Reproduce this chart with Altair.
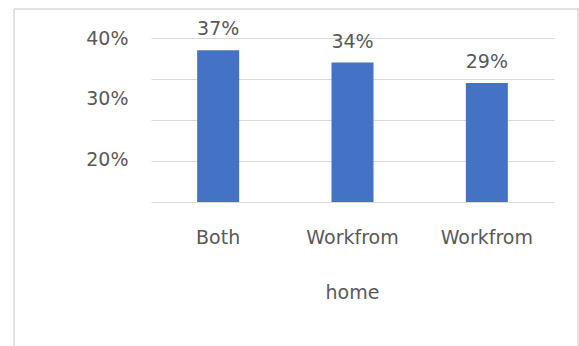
import altair as alt
import pandas as pd

categories = ["Both", "Workfrom home", "Workfrom"]
shares = [0.37, 0.34, 0.29]
label_ticks = [0.2, 0.3, 0.4]
grid_ticks = [0.0, 0.1, 0.2, 0.3, 0.4]

df = pd.DataFrame({"category": categories, "share": shares})
ticks_df = pd.DataFrame({"tick": label_ticks})
frame_df = pd.DataFrame({"frame": [0]})

FONT = "DejaVu Sans"
FS = 19
GREY = "#595959"
GRID = "#d9d9d9"

x_enc = alt.X(
    "category:N",
    sort=None,
    title=None,
    scale=alt.Scale(paddingInner=0, paddingOuter=0),
    axis=alt.Axis(
        domain=False, ticks=False, tickSize=0, labelAngle=0,
        labelPadding=26, labelFont=FONT, labelFontSize=FS, labelColor=GREY,
        labelLineHeight=55, labelExpr="split(datum.label, ' ')", labelLimit=300,
    ),
)

bars = alt.Chart(df).mark_bar(color="#4472C4", size=42).encode(
    x=x_enc,
    y=alt.Y(
        "share:Q",
        scale=alt.Scale(domain=[0, 0.4], nice=False),
        axis=alt.Axis(
            orient="right", grid=True, gridColor=GRID, gridWidth=1,
            labels=False, ticks=False, domain=False, values=grid_ticks, title=None,
        ),
    ),
)

text = alt.Chart(df).mark_text(
    font=FONT, fontSize=FS, color=GREY, baseline="middle", dy=-21
).encode(
    x=alt.X("category:N", sort=None),
    y=alt.Y("share:Q", scale=alt.Scale(domain=[0, 0.4], nice=False), axis=None),
    text=alt.Text("share:Q", format=".0%"),
)

ylabels = alt.Chart(ticks_df).mark_point(opacity=0).encode(
    y=alt.Y(
        "tick:Q",
        scale=alt.Scale(domain=[0.131, 0.4], nice=False, zero=False),
        axis=alt.Axis(
            orient="left", grid=False, ticks=False, tickSize=0, domain=False,
            values=label_ticks, format=".0%", labelFont=FONT, labelFontSize=FS,
            labelColor=GREY, labelPadding=23, title=None,
        ),
    ),
)

top_border = alt.Chart(frame_df).mark_rule(color=GRID, strokeWidth=1.5).encode(
    x=alt.value(-137), x2=alt.value(428), y=alt.value(-29)
)
left_border = alt.Chart(frame_df).mark_rule(color=GRID, strokeWidth=1.5).encode(
    x=alt.value(-137), y=alt.value(-29), y2=alt.value(308)
)
right_border = alt.Chart(frame_df).mark_rule(color=GRID, strokeWidth=1.5).encode(
    x=alt.value(427), y=alt.value(-29), y2=alt.value(308)
)

chart = alt.layer(
    bars, text, ylabels, top_border, left_border, right_border
).resolve_scale(y="independent").properties(
    width=403,
    height=164,
    autosize=alt.AutoSizeParams(type="none"),
    padding={"left": 151, "top": 38, "right": 25, "bottom": 144},
    background="white",
).configure_view(stroke=None)

chart.save("out.html", embed_options={"renderer": "svg", "actions": False})
